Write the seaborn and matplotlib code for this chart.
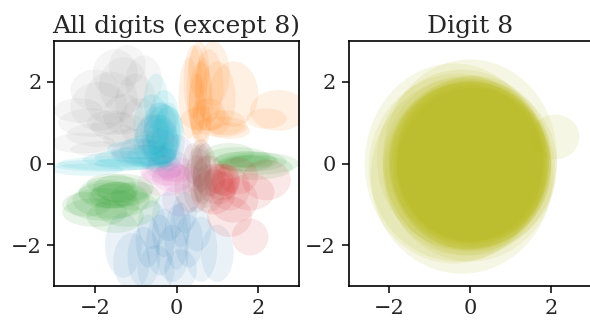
import matplotlib
matplotlib.use("Agg")
import matplotlib.pyplot as plt
from matplotlib.patches import Ellipse
import seaborn as sns

sns.set_theme(style="ticks")
plt.rcParams['font.family'] = ['DejaVu Serif']

# latent ellipses per digit: (center x, center y, width, height)
digit0 = [(-0.4, -2.0, 0.7, 1.5), (-0.1, -2.2, 0.8, 1.4), (0.3, -1.9, 0.7, 1.3), (-0.8, -2.3, 0.8, 1.5),
          (0.6, -2.1, 0.8, 1.6), (-1.1, -2.4, 0.9, 1.4), (1.0, -2.2, 0.8, 1.4), (-0.5, -2.6, 0.9, 1.2),
          (0.1, -2.6, 0.8, 1.0), (-0.2, -1.3, 0.8, 1.2), (0.2, -1.2, 0.6, 1.0), (-0.6, -1.5, 0.7, 1.2),
          (0.5, -1.6, 0.7, 1.1), (-1.3, -2.0, 0.9, 1.6), (0.0, -1.8, 0.6, 1.6), (-0.3, -1.7, 0.6, 1.2),
          (0.1, -1.5, 0.5, 1.1), (-0.7, -1.9, 0.6, 1.3), (-0.4, 0.6, 0.9, 1.2), (-0.8, 0.2, 1.6, 0.5)]
digit1 = [(0.5, 1.8, 0.5, 2.2), (0.6, 1.5, 0.6, 2.0), (0.4, 2.0, 0.45, 1.8), (0.8, 1.9, 0.7, 1.8),
          (1.0, 1.6, 0.9, 1.8), (0.7, 1.1, 1.2, 0.6), (1.1, 0.9, 1.3, 0.5), (1.4, 1.7, 1.2, 1.6),
          (2.5, 1.3, 1.4, 1.0), (0.55, 2.3, 0.5, 1.4), (0.9, 2.2, 0.8, 1.6), (2.2, 1.1, 1.0, 0.5),
          (0.3, 1.6, 0.5, 2.0), (0.6, 1.0, 0.5, 1.2), (1.3, 0.8, 1.0, 0.4), (0.5, 1.4, 0.4, 1.6),
          (0.65, 1.7, 0.4, 1.8), (0.8, 1.2, 0.8, 0.8), (1.2, 1.0, 1.0, 0.6)]
digit2 = [(-1.5, -0.7, 1.8, 0.8), (-1.4, -0.75, 1.4, 0.6), (-1.6, -0.9, 1.9, 0.9), (-1.3, -0.6, 1.5, 0.7),
          (-1.8, -1.0, 1.8, 0.8), (-1.2, -1.1, 1.6, 0.9), (-2.0, -1.2, 1.6, 0.7), (-1.6, -0.5, 1.2, 0.5),
          (-1.0, -0.8, 1.2, 0.7), (-1.5, -1.3, 1.4, 0.8), (-1.45, -0.7, 1.0, 0.5), (-1.55, -0.8, 1.2, 0.6),
          (-1.7, -0.75, 1.4, 0.7), (-2.2, -1.0, 1.2, 0.6),
          (1.8, 0.05, 1.8, 0.5), (1.7, 0.1, 1.5, 0.4), (2.0, 0.0, 2.0, 0.55), (1.5, 0.15, 1.6, 0.5),
          (1.9, -0.1, 1.9, 0.6), (1.3, 0.25, 1.2, 0.5), (1.9, 0.05, 1.2, 0.35), (1.7, 0.0, 1.3, 0.4)]
digit3 = [(1.1, -0.45, 0.9, 0.9), (1.0, -0.5, 1.0, 1.0), (1.2, -0.4, 0.7, 0.8), (1.3, -0.6, 1.0, 1.1),
          (0.9, -0.7, 1.1, 1.1), (1.5, -0.3, 1.0, 0.9), (1.4, -0.9, 1.2, 1.1), (0.8, -0.3, 0.8, 1.0),
          (1.8, -0.7, 1.2, 0.9), (1.8, -1.8, 0.9, 0.9), (1.3, -1.3, 1.1, 1.0), (2.2, -0.4, 1.2, 1.0),
          (1.15, -0.5, 0.6, 0.6), (1.05, -0.4, 0.7, 0.7)]
digit4 = [(-0.4, 0.4, 0.9, 0.9), (-0.2, 0.0, 1.0, 0.7), (0.1, -0.9, 0.9, 0.8), (-0.6, 0.7, 0.8, 1.0),
          (0.0, 0.3, 0.8, 0.8), (-0.3, -0.1, 0.9, 0.6), (-0.4, 0.9, 0.8, 1.2), (-0.9, 0.3, 1.4, 0.6)]
digit5 = [(0.55, -0.25, 0.6, 1.4), (0.6, -0.1, 0.5, 1.2), (0.5, -0.5, 0.7, 1.4), (0.7, -0.3, 0.6, 1.6),
          (0.4, 0.0, 0.5, 1.0), (0.8, -0.6, 0.8, 1.2), (0.3, -0.6, 0.7, 1.2), (0.6, 0.2, 0.5, 0.8),
          (0.55, -0.1, 0.4, 1.0), (0.65, -0.4, 0.5, 1.2)]
digit6 = [(-0.25, -0.25, 1.2, 0.6), (-0.1, -0.35, 1.0, 0.7), (-0.4, -0.2, 1.0, 0.5), (0.0, -0.15, 1.0, 0.6),
          (-0.3, -0.45, 1.3, 0.7), (0.1, -0.4, 0.9, 0.7), (-0.2, -0.3, 0.8, 0.5), (-0.1, -0.2, 0.7, 0.5)]
digit7 = [(-1.6, 1.6, 1.3, 1.3), (-1.3, 1.9, 1.2, 1.4), (-1.9, 1.4, 1.4, 1.2), (-1.0, 1.5, 1.0, 1.4),
          (-1.5, 2.2, 1.1, 1.2), (-2.1, 1.0, 1.6, 0.7), (-1.8, 0.7, 1.8, 0.6), (-2.3, 0.5, 1.6, 0.5),
          (-1.4, 0.9, 1.4, 0.7), (-0.8, 2.0, 0.9, 1.3), (-1.2, 2.4, 0.9, 1.0), (-2.4, 1.3, 1.2, 0.6),
          (-1.7, 0.35, 1.8, 0.4), (-0.9, 1.0, 1.0, 1.2), (-1.3, 1.2, 1.0, 1.0), (-1.6, 1.0, 1.2, 0.6),
          (-2.0, 1.8, 1.2, 1.0), (-1.1, 0.6, 1.4, 0.5)]
digit9 = [(-0.4, 0.7, 1.0, 1.6), (-0.3, 0.8, 0.9, 1.3), (-0.5, 0.5, 1.1, 1.4), (-0.2, 0.6, 0.8, 1.6),
          (-0.6, 0.9, 0.9, 1.6), (-0.7, 0.3, 1.4, 0.8), (-1.2, 0.1, 2.2, 0.4), (-1.5, 0.0, 2.8, 0.35),
          (-1.0, 0.15, 2.0, 0.45), (-1.8, -0.05, 2.4, 0.3), (-0.9, 0.35, 1.6, 0.5), (-0.3, 1.2, 0.7, 1.2),
          (-2.2, -0.15, 1.8, 0.3), (-0.5, 1.5, 0.6, 1.4), (-0.4, 0.6, 0.7, 1.0), (-0.3, 0.4, 0.8, 1.0),
          (-0.6, 0.2, 1.2, 0.5), (-1.1, 0.0, 1.8, 0.3), (-0.5, 0.8, 0.6, 1.2), (-0.2, 0.9, 0.6, 1.2)]
digit8 = [(0.0, 0.0, 4.0, 4.2), (-0.1, 0.0, 4.1, 4.3), (0.05, -0.1, 3.9, 4.0), (-0.2, 0.1, 4.2, 4.4),
          (0.0, -0.2, 4.2, 4.4), (-0.3, -0.1, 4.4, 4.6), (0.1, 0.1, 3.8, 4.1), (-0.2, -0.3, 4.5, 4.8),
          (-0.4, 0.0, 4.4, 4.9), (0.0, 0.15, 4.3, 4.8), (0.1, -0.05, 4.1, 4.2), (2.1, 0.65, 1.2, 1.1),
          (0.0, 0.0, 3.9, 4.0), (0.05, 0.05, 3.8, 3.9), (-0.05, -0.05, 3.9, 4.1), (0.0, 0.0, 3.7, 3.9),
          (-0.1, 0.05, 3.8, 4.0), (0.1, -0.1, 3.8, 3.9), (-0.15, -0.15, 4.0, 4.2), (0.0, 0.0, 3.6, 3.8),
          (0.05, -0.05, 3.7, 3.8)]

left_digits = [0, 1, 2, 3, 4, 5, 6, 7, 9]
left_data = [digit0, digit1, digit2, digit3, digit4, digit5, digit6, digit7, digit9]
ticks = [-2, 0, 2]

palette = sns.color_palette("tab10")
alphas = {0: 0.09, 1: 0.11, 2: 0.11, 3: 0.11, 4: 0.10, 5: 0.11, 6: 0.11, 7: 0.07, 9: 0.11}

fig = plt.figure(figsize=(5.9, 3.2), dpi=100)
ax1 = fig.add_axes([54 / 590, 34 / 320, 245 / 590, 245 / 320])
ax2 = fig.add_axes([348.5 / 590, 34 / 320, 243 / 590, 245 / 320])

for d, ells in zip(left_digits, left_data):
    for (x, y, w, h) in ells:
        ax1.add_patch(Ellipse((x, y), w, h, facecolor=palette[d], edgecolor='none', alpha=alphas[d]))
for (x, y, w, h) in digit8:
    ax2.add_patch(Ellipse((x, y), w, h, facecolor=palette[8], edgecolor='none', alpha=0.12))

for ax, title in [(ax1, "All digits (except 8)"), (ax2, "Digit 8")]:
    ax.set_xlim(-3, 3)
    ax.set_ylim(-3, 3)
    ax.set_xticks(ticks)
    ax.set_yticks(ticks)
    ax.set_title(title, fontsize=18, pad=6)
    ax.tick_params(labelsize=15, length=5, width=1.1, color='black', direction='out', pad=4)
    for s in ax.spines.values():
        s.set_color('black')
        s.set_linewidth(1.2)

fig.savefig("out.png", dpi=100)
